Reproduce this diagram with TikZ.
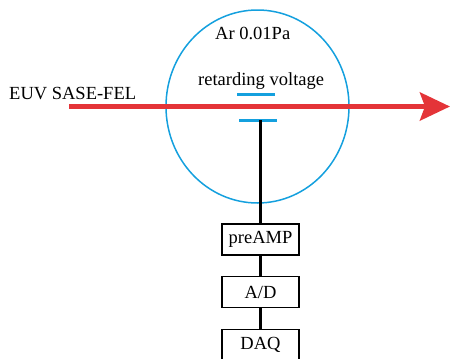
\documentclass[tikz,border=0pt]{standalone}
\usepackage{fontspec}
\setmainfont{Liberation Serif}
\usetikzlibrary{arrows.meta,shapes.geometric}
\definecolor{beamred}{RGB}{228,52,56}
\definecolor{chamberblue}{RGB}{20,160,222}
\begin{document}
\begin{tikzpicture}[x=1pt,y=-1pt,
  lbl/.style={font=\fontsize{18.5}{20}\selectfont, inner sep=0pt},
  boxnode/.style={draw=black, line width=1.4pt, minimum width=77pt, minimum height=31pt, inner sep=0pt, font=\fontsize{18.5}{20}\selectfont},
  plate/.style={draw=chamberblue, line width=3pt},
  wire/.style={draw=black, line width=3pt}]
\useasboundingbox (0,0) rectangle (451,359);
% chamber
\node[ellipse, draw=chamberblue, line width=1.5pt, minimum width=183pt, minimum height=193pt, inner sep=0pt] (chamber) at (257.5,106.5) {};
% beam
\coordinate (beamstart) at (69,106.5);
\coordinate (beamend) at (450,106.5);
\draw[beamred, line width=5pt, -{Stealth[length=30pt,width=28pt,inset=5pt]}] (beamstart) -- (beamend);
% plates
\coordinate (p1a) at (237,94);
\coordinate (p1b) at (275,94);
\coordinate (p2a) at (239,120);
\coordinate (p2b) at (277,120);
\draw[plate] (p1a) -- (p1b);
\draw[plate] (p2a) -- (p2b);
\coordinate (wiretop) at (260,120);
% labels
\node[lbl, anchor=base west] (euv) at (9,99.5) {EUV SASE-FEL};
\node[lbl, anchor=base west] (ret) at (198,85) {retarding voltage};
\node[lbl, anchor=base west] (ar) at (215,39.5) {Ar 0.01Pa};
% boxes
\node[boxnode] (pre) at (260.5,239.5) {preAMP};
\node[boxnode] (ad) at (260.5,292) {A/D};
\node[boxnode] (daq) at (260.5,345) {DAQ};
\draw[wire] (wiretop) -- (pre.north -| wiretop);
\draw[wire] (pre.south -| wiretop) -- (ad.north -| wiretop);
\draw[wire] (ad.south -| wiretop) -- (daq.north -| wiretop);
\end{tikzpicture}
\end{document}
